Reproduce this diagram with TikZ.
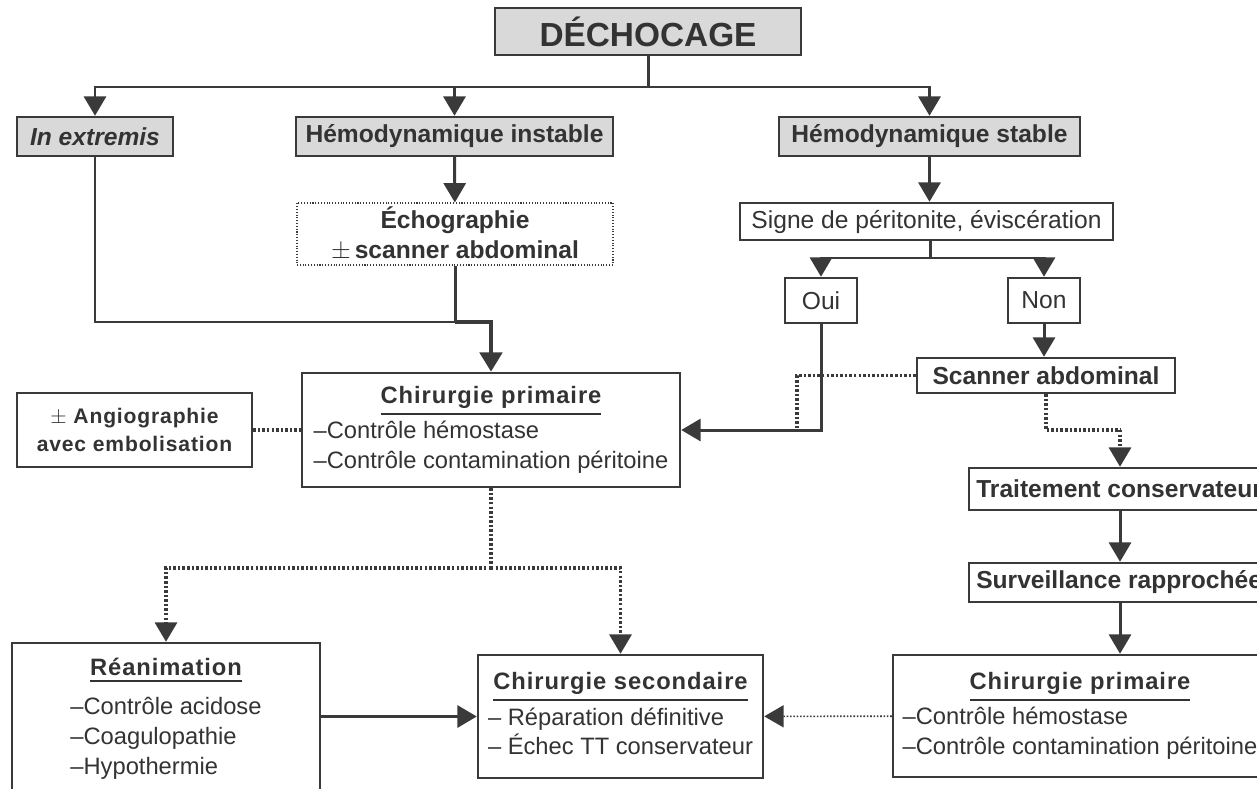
\documentclass[tikz,border=0pt]{standalone}
\usepackage{fontspec}
\setmainfont{Liberation Sans}
\newfontfamily\espace{Liberation Sans}[LetterSpace=4]
\usetikzlibrary{arrows.meta}

\definecolor{gristrait}{HTML}{3A3A3A}
\definecolor{grisfond}{HTML}{D9D9D9}
\definecolor{gristexte}{HTML}{333333}

\newlength{\upx}
\setlength{\upx}{0.02cm}
\newcommand{\soustitre}[1]{\vtop{\hbox{\espace\bfseries #1}\kern2.5pt\hrule height 1.1pt}}

\tikzset{
    boite/.style={draw=gristrait, line width=1.4pt, fill=white, text=gristexte, inner sep=2pt,
        font=\fontsize{14}{17}\selectfont\bfseries},
    grise/.style={boite, fill=grisfond},
    liste/.style={boite, font=\fontsize{13.5}{17}\selectfont},
    lien/.style={draw=gristrait, line width=1.7pt},
    fleche/.style={lien, -{Triangle[width=12.5pt,length=11pt]}},
    pointille/.style={draw=gristrait, line width=1.8pt, dash pattern=on 1.4pt off 1.2pt}
}

\begin{document}
\begin{tikzpicture}[x=1\upx, y=-1\upx]
    \useasboundingbox (0,0) rectangle (1257,788);
    \clip (0,0) rectangle (1257,788);

    % Tete
    \node[grise, font=\fontsize{19}{22}\selectfont\bfseries, minimum width=306\upx, minimum height=47\upx] (dechocage) at (648,31.5) {DÉCHOCAGE};

    % Trois situations
    \node[grise, font=\fontsize{14}{17}\selectfont\bfseries\itshape, minimum width=156\upx, minimum height=39\upx] (extremis) at (95,136.5) {In extremis};
    \node[grise, minimum width=317\upx, minimum height=39\upx] (instable) at (454.5,136.5) {Hémodynamique instable};
    \node[grise, minimum width=301\upx, minimum height=39\upx] (stable) at (929.5,136.5) {Hémodynamique stable};

    % Branche instable
    \node[boite, draw=gristrait, line width=0.6pt, densely dotted, align=center, minimum width=316\upx, minimum height=62\upx] (echo) at (455,234) {Échographie\\$\pm$\,scanner abdominal};

    % Branche stable
    \node[boite, font=\fontsize{14}{17}\selectfont, minimum width=373\upx, minimum height=37\upx] (signe) at (926.5,221.5) {Signe de péritonite, éviscération};
    \node[boite, font=\fontsize{14}{17}\selectfont, minimum width=72\upx, minimum height=45\upx] (oui) at (821,300.5) {Oui};
    \node[boite, font=\fontsize{14}{17}\selectfont, minimum width=72\upx, minimum height=45\upx] (non) at (1044,300.5) {Non};
    \node[boite, minimum width=258\upx, minimum height=35\upx] (scanner) at (1046,375.5) {Scanner abdominal};
    \node[boite, anchor=west, inner xsep=4pt, minimum height=42\upx] (conserv) at (968,489) {Traitement conservateur};
    \node[boite, anchor=west, inner xsep=4pt, minimum height=39\upx] (surveil) at (968,582.5) {Surveillance rapprochée};

    % Chirurgie
    \node[liste, minimum width=378\upx, minimum height=114\upx] (chirprim) at (491,430) {\begin{tabular}{@{}l@{}}
        \multicolumn{1}{@{}c@{}}{\soustitre{Chirurgie primaire}}\\[3pt]
        –Contrôle hémostase\\
        –Contrôle contamination péritoine
    \end{tabular}};
    \node[boite, font=\fontsize{12}{16}\selectfont\bfseries\espace, align=center, minimum width=235\upx, minimum height=74\upx] (angio) at (134.5,430) {$\pm$ Angiographie\\avec embolisation};
    \node[liste, minimum width=374\upx, minimum height=122\upx] (chirprimb) at (1080,716) {\begin{tabular}{@{}l@{}}
        \multicolumn{1}{@{}c@{}}{\soustitre{Chirurgie primaire}}\\[3pt]
        –Contrôle hémostase\\
        –Contrôle contamination péritoine
    \end{tabular}};
    \node[liste, minimum width=308\upx, minimum height=152\upx] (reanim) at (166,719) {\begin{tabular}{@{}l@{}}
        \multicolumn{1}{@{}c@{}}{\soustitre{Réanimation}}\\[5pt]
        –Contrôle acidose\\
        –Coagulopathie\\
        –Hypothermie
    \end{tabular}};
    \node[liste, minimum width=285\upx, minimum height=123\upx] (chirsec) at (620.5,716.5) {\begin{tabular}{@{}l@{}}
        \multicolumn{1}{@{}c@{}}{\soustitre{Chirurgie secondaire}}\\[3pt]
        – Réparation définitive\\
        – Échec TT conservateur
    \end{tabular}};

    % Points de jonction
    \coordinate (j1) at (648,87);
    \coordinate (j2) at (455,322);
    \coordinate (j3) at (930,258);
    \coordinate (j4) at (797,430);
    \coordinate (j5) at (1120,430);
    \coordinate (j6) at (491,568);

    % Liens du haut
    \draw[lien] (dechocage) -- (j1);
    \draw[fleche] (j1) -| (extremis);
    \draw[fleche] (j1) -| (instable);
    \draw[fleche] (j1) -| (stable);

    % Vers la chirurgie primaire
    \draw[fleche] (instable) -- (echo);
    \draw[lien] (extremis) |- (j2);
    \draw[lien] (echo) -- (j2);
    \draw[fleche, line width=2.8pt] (j2) -| (chirprim);

    % Cote stable
    \draw[fleche] (stable.south) -- (stable.south |- signe.north);
    \draw[lien] (signe.south -| j3) -- (j3);
    \draw[fleche] (j3) -| (oui);
    \draw[fleche] (j3) -| (non);
    \draw[fleche] (non.south) -- (non.south |- scanner.north);
    \draw[fleche] (oui) |- (chirprim);
    \draw[pointille] (scanner) -| (j4);
    \draw[pointille] (scanner.south) |- (j5);
    \draw[pointille, -{Triangle[width=12.5pt,length=11pt]}] (j5) -- (j5 |- conserv.north);
    \draw[fleche] (j5 |- conserv.south) -- (j5 |- surveil.north);
    \draw[fleche] (j5 |- surveil.south) -- (j5 |- chirprimb.north);

    % Bas
    \draw[pointille] (angio) -- (chirprim);
    \draw[pointille] (chirprim) -- (j6);
    \draw[pointille, -{Triangle[width=12.5pt,length=11pt]}] (j6) -| (reanim);
    \draw[pointille, -{Triangle[width=12.5pt,length=11pt]}] (j6) -| (chirsec);
    \draw[fleche] (reanim.east |- chirsec) -- (chirsec);
    \draw[draw=gristrait, line width=0.9pt, densely dotted, -{Triangle[width=12.5pt,length=11pt]}] (chirprimb) -- (chirsec);
\end{tikzpicture}
\end{document}
